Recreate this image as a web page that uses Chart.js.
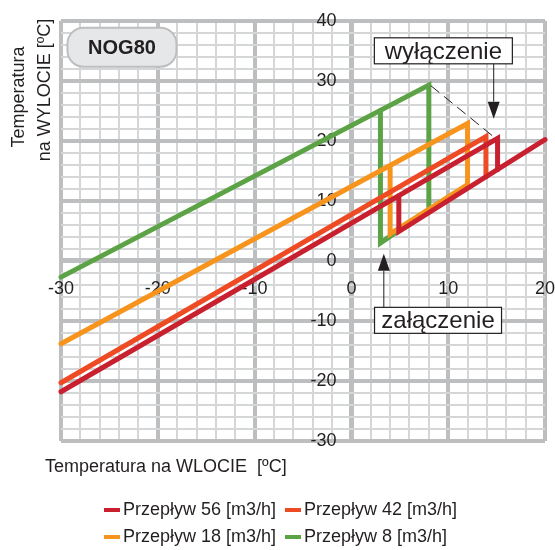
<!DOCTYPE html>
<html><head><meta charset="utf-8">
<script src="https://cdn.jsdelivr.net/npm/chart.js@4.4.1/dist/chart.umd.min.js"></script>
<style>
html,body{margin:0;padding:0;background:#fff;}
#wrap{position:relative;width:555px;height:550px;overflow:hidden;font-family:"Liberation Sans",Arial,sans-serif;color:#231f20;}
canvas{position:absolute;left:0;top:0;}
.t{position:absolute;font-size:18px;white-space:nowrap;line-height:21px;}
.rot{transform:translate(-50%,-50%) rotate(-90deg);}
.sw{position:absolute;width:16px;height:4px;}
</style></head><body>
<div id="wrap">
<canvas id="c" width="555" height="550"></canvas>
<div class="t rot" style="left:18px;top:97px;">Temperatura</div>
<div class="t rot" style="left:44px;top:90px;">na WYLOCIE [ºC]</div>
<div class="t" style="left:45px;top:456px;">Temperatura na WLOCIE&nbsp; [ºC]</div>
<div id="legend"></div>
</div>
<script>
// ---- data ----
const seriesLabels = ['Przepływ 56 [m3/h]', 'Przepływ 42 [m3/h]', 'Przepływ 18 [m3/h]', 'Przepływ 8 [m3/h]'];
const seriesColors = ['#c8202f', '#ee4a24', '#f7941d', '#5ba344'];
const flow56X = [4.9, 4.9, 20, null, -30, 15.1, 15.1];
const flow56Y = [10.9, 4.9, 20.2, null, -21.8, 20.4, 15.2];
const flow42X = [-30, 13.9, 13.9];
const flow42Y = [-20.3, 20.7, 14.0];
const flow18X = [-30, 12, 12, 4, 4];
const flow18Y = [-13.8, 22.9, 12.7, 4.5, 15.9];
const flow8X = [-30, 8, 8, 3, 3];
const flow8Y = [-2.7, 29.3, 8.5, 3.0, 25.1];
const envelopeX = [8.2, 14.6];
const envelopeY = [29.2, 20.8];
const xTickLabels = [-30, -20, -10, 0, 10, 20];
const yTickLabels = [-30, -20, -10, 0, 10, 20, 30, 40];
const annotations = [
  {text: 'wyłączenie', boxX: 9.5, boxY: 35.0, arrowX: 14.7, tipY: 23.7, boxW: 138},
  {text: 'załączenie', boxX: 8.95, boxY: -9.9, arrowX: 3.35, tipY: 1.2, boxW: 127}
];
const badge = {text: 'NOG80', x: -23.7, y: 35.6};

// ---- build ----
function pts(xs, ys) {
  return xs.map((x, i) => ({x: x === null ? xs[i - 1] : x, y: ys[i]}));
}
const seriesX = [flow56X, flow42X, flow18X, flow8X];
const seriesY = [flow56Y, flow42Y, flow18Y, flow8Y];
const datasets = seriesLabels.map((lab, i) => ({
  label: lab,
  data: pts(seriesX[i], seriesY[i]),
  showLine: true, borderColor: seriesColors[i], backgroundColor: seriesColors[i],
  borderWidth: 5, pointRadius: 0, borderCapStyle: 'round', borderJoinStyle: 'miter',
  spanGaps: false, clip: 8, fill: false
}));
datasets.unshift({
  label: 'envelope', data: pts(envelopeX, envelopeY), showLine: true,
  borderColor: '#231f20', borderWidth: 1, borderDash: [11, 6], pointRadius: 0, fill: false
});

const isMajor = v => Math.abs(v % 10) < 1e-9;
const FONT = {family: '"Liberation Sans", Arial, sans-serif', size: 18};
function gridColor(ctx) { return ctx.tick && !isMajor(ctx.tick.value) ? '#d5d6d8' : '#bcbec0'; }
function gridWidth(ctx) {
  if (!ctx.tick) return 4;
  const v = ctx.tick.value;
  return v === 0 ? 5 : isMajor(v) ? 4 : 2;
}
function tickColor(ctx) { return ctx.tick && isMajor(ctx.tick.value) ? '#bcbec0' : 'rgba(0,0,0,0)'; }

// y labels sit left of the centred axis with a gap
const yLabelGap = 15;
const labelShift = {
  id: 'labelShift',
  beforeDraw(chart) {
    const s = chart.scales.y;
    s.getLabelItems().forEach(it => { it.options.translation[0] -= yLabelGap; });
  }
};

const annotPlugin = {
  id: 'annot',
  afterDatasetsDraw(chart) {
    const {ctx, scales: {x, y}} = chart;
    ctx.save();
    ctx.font = 'bold 20px "Liberation Sans", Arial, sans-serif';
    const bx = x.getPixelForValue(badge.x), by = y.getPixelForValue(badge.y);
    const bw = 109, bh = 39;
    ctx.beginPath();
    ctx.roundRect(bx - bw / 2, by - bh / 2, bw, bh, 16);
    ctx.fillStyle = '#e6e7e8'; ctx.fill();
    ctx.lineWidth = 2; ctx.strokeStyle = '#bcbec0'; ctx.stroke();
    ctx.fillStyle = '#231f20'; ctx.textAlign = 'center'; ctx.textBaseline = 'alphabetic';
    ctx.fillText(badge.text, bx, by + 7);
    ctx.font = '24px "Liberation Sans", Arial, sans-serif';
    annotations.forEach(a => {
      const cx = x.getPixelForValue(a.boxX), cy = y.getPixelForValue(a.boxY);
      const w = a.boxW, h = 26;
      const ax = x.getPixelForValue(a.arrowX), ty = y.getPixelForValue(a.tipY);
      const down = ty > cy;
      const start = down ? cy + h / 2 : cy - h / 2;
      const headLen = 17, headW = 6;
      const base = down ? ty - headLen : ty + headLen;
      ctx.strokeStyle = '#231f20'; ctx.lineWidth = 1;
      ctx.beginPath(); ctx.moveTo(ax, start); ctx.lineTo(ax, base); ctx.stroke();
      ctx.beginPath(); ctx.moveTo(ax - headW, base); ctx.lineTo(ax + headW, base); ctx.lineTo(ax, ty); ctx.closePath();
      ctx.fillStyle = '#231f20'; ctx.fill();
      ctx.fillStyle = '#ffffff';
      ctx.fillRect(cx - w / 2, cy - h / 2, w, h);
      ctx.lineWidth = 1.2; ctx.strokeStyle = '#231f20';
      ctx.strokeRect(cx - w / 2, cy - h / 2, w, h);
      ctx.fillStyle = '#231f20'; ctx.textAlign = 'center';
      ctx.fillText(a.text, cx, cy + 8);
    });
    ctx.restore();
  }
};

new Chart(document.getElementById('c'), {
  type: 'scatter',
  data: {datasets},
  options: {
    responsive: false, animation: false, devicePixelRatio: 1,
    layout: {padding: {left: 61, right: 10, top: 18, bottom: 109}},
    plugins: {legend: {display: false}, tooltip: {enabled: false}},
    scales: {
      x: {
        type: 'linear', min: -30, max: 20, position: {y: 0},
        afterFit: s => { s.paddingLeft = 10; s.paddingRight = 10; },
        ticks: {stepSize: 2, autoSkip: false, maxRotation: 0, minRotation: 0, padding: 12,
          color: '#231f20', font: FONT,
          callback: v => xTickLabels.includes(v) ? String(v) : ''},
        grid: {color: gridColor, lineWidth: gridWidth, drawTicks: true, tickLength: 5,
          tickColor: tickColor, tickWidth: 4},
        border: {display: false}
      },
      y: {
        type: 'linear', min: -30, max: 40, position: {x: 0},
        ticks: {stepSize: 2, autoSkip: false, padding: 10, color: '#231f20', font: FONT,
          callback: v => yTickLabels.includes(v) ? String(v) : ''},
        grid: {color: gridColor, lineWidth: gridWidth, drawTicks: true, tickLength: 5,
          tickColor: tickColor, tickWidth: 4},
        border: {display: false}
      }
    }
  },
  plugins: [labelShift, annotPlugin]
});

const legend = document.getElementById('legend');
const cols = [104, 285], rows = [510, 537];
seriesLabels.forEach((lab, i) => {
  const lx = cols[i % 2], ly = rows[Math.floor(i / 2)];
  const sw = document.createElement('div');
  sw.className = 'sw';
  sw.style.left = lx + 'px'; sw.style.top = (ly - 2) + 'px'; sw.style.background = seriesColors[i];
  legend.appendChild(sw);
  const t = document.createElement('div');
  t.className = 't';
  t.style.left = (lx + 19) + 'px'; t.style.top = (ly - 11) + 'px';
  t.textContent = lab;
  legend.appendChild(t);
});
</script>
</body></html>
